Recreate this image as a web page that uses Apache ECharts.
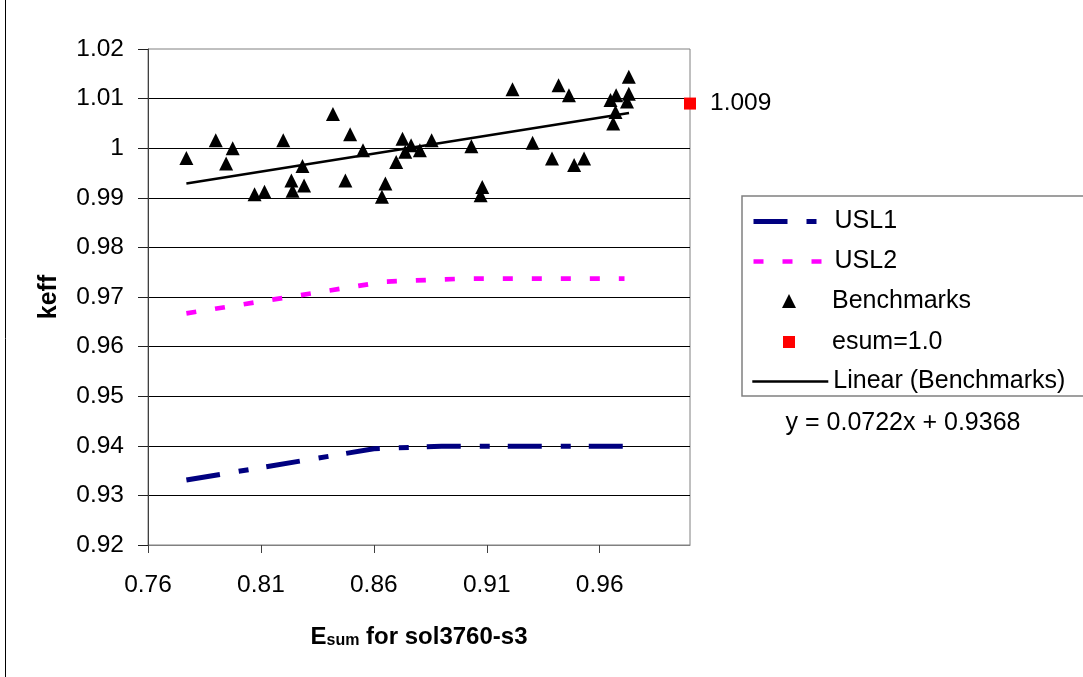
<!DOCTYPE html>
<html>
<head>
<meta charset="utf-8">
<script src="https://cdn.jsdelivr.net/npm/echarts@6/dist/echarts.min.js"></script>
<style>
  html, body { margin: 0; padding: 0; background: #fff; }
  #chart { width: 1083px; height: 677px; }
</style>
</head>
<body>
<div id="chart"></div>
<script>
// Axis ticks
const xTicks = [0.76, 0.81, 0.86, 0.91, 0.96];

// Upper subcritical limits
const usl1 = [[0.777, 0.9331], [0.86, 0.9394], [0.89, 0.9399], [0.971, 0.9399]];
const usl2 = [[0.777, 0.9667], [0.865, 0.9731], [0.90, 0.9737], [0.971, 0.9737]];

// Benchmark experiments (Esum, keff)
const benchmarks = [
  [0.777, 0.9980], [0.790, 1.0016], [0.7975, 1.0000], [0.7946, 0.9969],
  [0.8199, 1.0016], [0.8419, 1.0069], [0.8495, 1.0028], [0.8552, 0.9996],
  [0.8284, 0.9964], [0.8235, 0.9935], [0.8291, 0.9925], [0.8240, 0.9914],
  [0.8072, 0.9907], [0.8116, 0.9912], [0.8474, 0.9935], [0.8651, 0.9929],
  [0.8636, 0.9902], [0.8699, 0.9972], [0.8727, 1.0019], [0.8739, 0.9993],
  [0.8765, 1.0006], [0.8804, 0.9996], [0.8856, 1.0016], [0.9032, 1.0004],
  [0.9214, 1.0119], [0.9303, 1.0011], [0.9418, 1.0127], [0.9464, 1.0107],
  [0.9389, 0.9979], [0.9531, 0.9979], [0.9487, 0.9966], [0.9080, 0.9922],
  [0.9073, 0.9905], [0.9729, 1.0144], [0.9648, 1.0097], [0.9673, 1.0107],
  [0.9729, 1.0110], [0.9721, 1.0094], [0.9670, 1.0073], [0.9660, 1.0050]
];

// Application point at esum = 1.0
const esum = [[1.0, 1.009]];

// Linear fit through the benchmarks
const trend = [[0.777, 0.9929], [0.973, 1.0071]];
const equation = 'y = 0.0722x + 0.9368';

const FONT = 'Liberation Sans, Arial, sans-serif';
const legendText = { fontFamily: FONT, fontSize: 25, color: '#000' };

// Legend column: samples centred at x = 789, labels starting at x = 832.
const SAMPLE_LEFT = 751, SAMPLE_WIDTH = 76, LABEL_X = 832;

const lineLegend = (top, data) => ({
  orient: 'vertical', left: SAMPLE_LEFT, top, padding: 0,
  itemWidth: SAMPLE_WIDTH, itemHeight: 13, itemGap: 15,
  selectedMode: false,
  textStyle: legendText,
  data
});

// Marker entries get a marker-sized box; the label is padded over to the shared column.
const markerLegend = (top, size, name, icon) => {
  const left = SAMPLE_LEFT + SAMPLE_WIDTH / 2 - size / 2;
  return {
    orient: 'vertical', left, top: top + (13 - size) / 2, padding: 0,
    itemWidth: size, itemHeight: size,
    selectedMode: false,
    textStyle: Object.assign({ padding: [0, 0, 0, LABEL_X - left - size - 5] }, legendText),
    data: [{ name, icon }]
  };
};

const chart = echarts.init(document.getElementById('chart'), null, { renderer: 'canvas' });

chart.setOption({
  animation: false,
  backgroundColor: '#fff',
  grid: {
    left: 148, top: 49, width: 542, height: 496,
    show: true, borderColor: '#808080', borderWidth: 1,
    containLabel: false
  },
  xAxis: {
    type: 'value',
    min: 0.76, max: 1.0, interval: 0.05,
    name: '{b|E}{s|sum}{b| for sol3760-s3}',
    nameLocation: 'middle',
    nameGap: 78,
    nameTextStyle: {
      rich: {
        b: { fontFamily: FONT, fontSize: 24, fontWeight: 'bold', color: '#000', lineHeight: 26, verticalAlign: 'bottom' },
        s: { fontFamily: FONT, fontSize: 16, fontWeight: 'bold', color: '#000', lineHeight: 14, verticalAlign: 'bottom' }
      }
    },
    axisLine: { show: true, lineStyle: { color: '#808080', width: 1 } },
    axisTick: { show: true, inside: false, length: 8, customValues: xTicks, lineStyle: { color: '#404040' } },
    axisLabel: {
      customValues: xTicks,
      margin: 28,
      fontFamily: FONT, fontSize: 24.5, color: '#000',
      formatter: v => v.toFixed(2)
    },
    splitLine: { show: false }
  },
  yAxis: {
    type: 'value',
    min: 0.92, max: 1.02, interval: 0.01,
    name: 'keff',
    nameLocation: 'middle',
    nameGap: 86,
    nameTextStyle: { fontFamily: FONT, fontSize: 25, fontWeight: 'bold', color: '#000' },
    axisLine: { show: true, lineStyle: { color: '#404040', width: 1 } },
    axisTick: { show: true, inside: false, length: 10, lineStyle: { color: '#202020' } },
    axisLabel: {
      margin: 24,
      fontFamily: FONT, fontSize: 24.5, color: '#000',
      formatter: v => String(Math.round(v * 100) / 100)
    },
    splitLine: { show: true, showMinLine: false, showMaxLine: false, lineStyle: { color: '#000', width: 1 } }
  },
  legend: [
    lineLegend(209, [
      { name: 'USL1', itemStyle: { opacity: 0 }, lineStyle: { width: 5 } },
      { name: 'USL2', itemStyle: { opacity: 0 }, lineStyle: { width: 4.7 } }
    ]),
    markerLegend(289, 14, 'Benchmarks', 'triangle'),
    markerLegend(329, 12, 'esum=1.0', 'rect'),
    lineLegend(369, [
      { name: 'Linear (Benchmarks)', itemStyle: { opacity: 0 }, lineStyle: { width: 2.6 } }
    ])
  ],
  series: [
    {
      name: 'USL1', type: 'line', data: usl1,
      symbol: 'none', showSymbol: false, smooth: false,
      lineStyle: { color: '#000080', width: 5, type: [34, 19, 10, 18], cap: 'butt' },
      itemStyle: { color: '#000080' },
      z: 3
    },
    {
      name: 'USL2', type: 'line', data: usl2,
      symbol: 'none', showSymbol: false,
      lineStyle: { color: '#FF00FF', width: 4.7, type: [10, 19], cap: 'butt' },
      itemStyle: { color: '#FF00FF' },
      z: 3
    },
    {
      name: 'Benchmarks', type: 'scatter', data: benchmarks,
      symbol: 'triangle', symbolSize: 14,
      itemStyle: { color: '#000', opacity: 1 },
      clip: false, z: 4
    },
    {
      name: 'esum=1.0', type: 'scatter', data: esum,
      symbol: 'rect', symbolSize: 12,
      itemStyle: { color: '#FF0000', opacity: 1 },
      label: {
        show: true, position: 'right', distance: 14,
        formatter: p => String(p.value[1]),
        fontFamily: FONT, fontSize: 24.5, color: '#000'
      },
      clip: false, z: 5
    },
    {
      name: 'Linear (Benchmarks)', type: 'line', data: trend,
      symbol: 'none', showSymbol: false,
      lineStyle: { color: '#000', width: 2.6 },
      itemStyle: { color: '#000' },
      z: 5
    }
  ],
  graphic: [
    {
      type: 'rect', silent: true, z: -1,
      shape: { x: 742, y: 196, width: 345, height: 200 },
      style: { fill: '#fff', stroke: '#808080', lineWidth: 1.5 }
    },
    {
      type: 'line', silent: true,
      shape: { x1: 5.5, y1: 0, x2: 5.5, y2: 677 },
      style: { stroke: '#000', lineWidth: 1 }
    },
    {
      type: 'text', silent: true,
      x: 903, y: 423,
      style: {
        text: equation, fontFamily: FONT, fontSize: 25, fill: '#000',
        align: 'center', verticalAlign: 'middle'
      }
    }
  ]
});
</script>
</body>
</html>
